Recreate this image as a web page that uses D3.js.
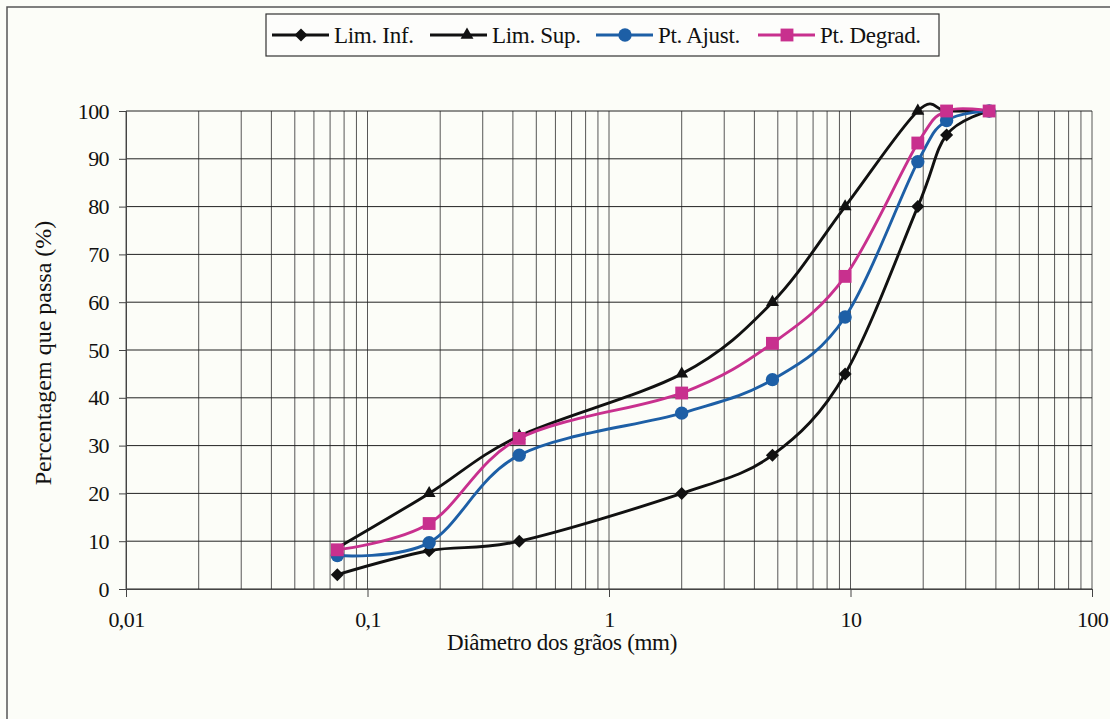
<!DOCTYPE html>
<html>
<head>
<meta charset="utf-8">
<script src="https://cdn.jsdelivr.net/npm/d3@7"></script>
<style>
  html, body { margin: 0; padding: 0; background: #fcfdf8; }
  svg { display: block; }
  text { font-family: "Liberation Serif", "Times New Roman", serif; fill: #111; }
</style>
</head>
<body>
<svg id="chart" width="1110" height="719"></svg>
<script>
// Sieve openings (mm)
const sieves = [0.075, 0.18, 0.425, 2.0, 4.75, 9.5, 19, 25, 37.5];

// Percent passing per curve
const limInf   = [3, 8, 10, 20, 28, 45, 80, 95, 100];
const limSup   = [8.6, 20, 32, 45, 60, 80, 100, 100, 100];
const ptAjust  = [7, 9.7, 28, 36.8, 43.8, 56.9, 89.4, 98, 100];
const ptDegrad = [8.2, 13.7, 31.5, 41, 51.4, 65.4, 93.3, 100, 100];

const yTicks = [0, 10, 20, 30, 40, 50, 60, 70, 80, 90, 100];
const xTickLabels = ["0,01", "0,1", "1", "10", "100"];
const xTickValues = [0.01, 0.1, 1, 10, 100];

const seriesNames = ["Lim. Inf.", "Lim. Sup.", "Pt. Ajust.", "Pt. Degrad."];

const series = [
  { name: seriesNames[0], values: limInf,   color: "#111111", symbol: d3.symbolSquare,   size: 85,  rot: 45, markerAt: [0,1,2,3,4,5,6,7,8] },
  { name: seriesNames[1], values: limSup,   color: "#111111", symbol: d3.symbolTriangle, size: 72,  rot: 0,  markerAt: [1,2,3,4,5,6] },
  { name: seriesNames[2], values: ptAjust,  color: "#1d5fa6", symbol: d3.symbolCircle,   size: 140, rot: 0,  markerAt: [0,1,2,3,4,5,6,7,8] },
  { name: seriesNames[3], values: ptDegrad, color: "#c8308e", symbol: d3.symbolSquare,   size: 165, rot: 0,  markerAt: [0,1,2,3,4,5,6,7,8] }
];

const svg = d3.select("#chart");

// Outer frame
svg.append("rect")
  .attr("x", 7).attr("y", 7).attr("width", 1120).attr("height", 730)
  .attr("fill", "none").attr("stroke", "#555").attr("stroke-width", 1.5);

const plotL = 126, plotR = 1092, plotT = 111, plotB = 589;

const x = d3.scaleLog().domain([0.01, 100]).range([plotL, plotR]);
const y = d3.scaleLinear().domain([0, 100]).range([plotB, plotT]);

// Vertical grid: every 1..9 multiple in each decade
const gridX = [];
for (let e = -2; e < 2; e++) {
  for (let m = 1; m <= 9; m++) gridX.push(m * Math.pow(10, e));
}
gridX.push(100);

const grid = svg.append("g");
grid.selectAll("line.vx").data(gridX).enter().append("line")
  .attr("x1", d => x(d)).attr("x2", d => x(d))
  .attr("y1", plotT).attr("y2", plotB)
  .attr("stroke", "#444").attr("stroke-width", 0.9);

grid.selectAll("line.hy").data(yTicks).enter().append("line")
  .attr("x1", plotL).attr("x2", plotR)
  .attr("y1", d => y(d)).attr("y2", d => y(d))
  .attr("stroke", "#222").attr("stroke-width", 1);

// Y axis
const yAxis = d3.axisLeft(y).tickValues(yTicks).tickSize(7).tickPadding(10);
const gy = svg.append("g").attr("transform", `translate(${plotL},0)`).call(yAxis);
gy.select(".domain").attr("stroke", "#444");
gy.selectAll(".tick line").attr("stroke", "#444");
gy.selectAll(".tick text")
  .style("font-size", "22px").style("font-family", "Liberation Serif")
  .style("letter-spacing", "-0.6px").attr("fill", "#111");

// X axis
const xAxis = d3.axisBottom(x).tickValues(xTickValues)
  .tickFormat((d, i) => xTickLabels[i]).tickSize(8).tickPadding(14);
const gx = svg.append("g").attr("transform", `translate(0,${plotB})`).call(xAxis);
gx.select(".domain").attr("stroke", "#444");
gx.selectAll(".tick line").attr("stroke", "#444");
gx.selectAll(".tick text")
  .style("font-size", "22px").style("font-family", "Liberation Serif")
  .style("letter-spacing", "-0.6px").attr("fill", "#111");

// Axis titles
svg.append("text")
  .attr("x", 562).attr("y", 650)
  .attr("text-anchor", "middle")
  .style("font-size", "23px").style("letter-spacing", "-0.3px")
  .text("Diâmetro dos grãos (mm)");

svg.append("text")
  .attr("transform", "translate(51,353) rotate(-90)")
  .attr("text-anchor", "middle")
  .style("font-size", "24px")
  .text("Percentagem que passa (%)");

// Curves
const line = d3.line()
  .x((d, i) => x(sieves[i]))
  .y(d => y(d))
  .curve(d3.curveCardinal.tension(0));

const plot = svg.append("g");
series.forEach(s => {
  plot.append("path")
    .datum(s.values)
    .attr("d", line)
    .attr("fill", "none")
    .attr("stroke", s.color)
    .attr("stroke-width", 2.9);
});
series.forEach(s => {
  plot.selectAll(null).data(s.markerAt).enter().append("path")
    .attr("d", d3.symbol().type(s.symbol).size(s.size))
    .attr("transform", i => `translate(${x(sieves[i])},${y(s.values[i])}) rotate(${s.rot})`)
    .attr("fill", s.color);
});

// Legend
const lg = svg.append("g");
lg.append("rect")
  .attr("x", 266).attr("y", 14).attr("width", 673).attr("height", 42)
  .attr("fill", "#fdfdfb").attr("stroke", "#333").attr("stroke-width", 1.2);

const legendX = [272, 430, 596, 758];
series.forEach((s, k) => {
  const g = lg.append("g").attr("transform", `translate(${legendX[k]},35)`);
  g.append("line").attr("x1", 0).attr("x2", 57).attr("y1", 0).attr("y2", 0)
    .attr("stroke", s.color).attr("stroke-width", 2.9);
  g.append("path").attr("d", d3.symbol().type(s.symbol).size(s.size))
    .attr("transform", `translate(${k === 1 ? 37 : 29},0) rotate(${s.rot})`).attr("fill", s.color);
  g.append("text").attr("x", 62).attr("y", 8)
    .style("font-size", "23px").style("letter-spacing", "-0.3px")
    .text(s.name);
});
</script>
</body>
</html>
